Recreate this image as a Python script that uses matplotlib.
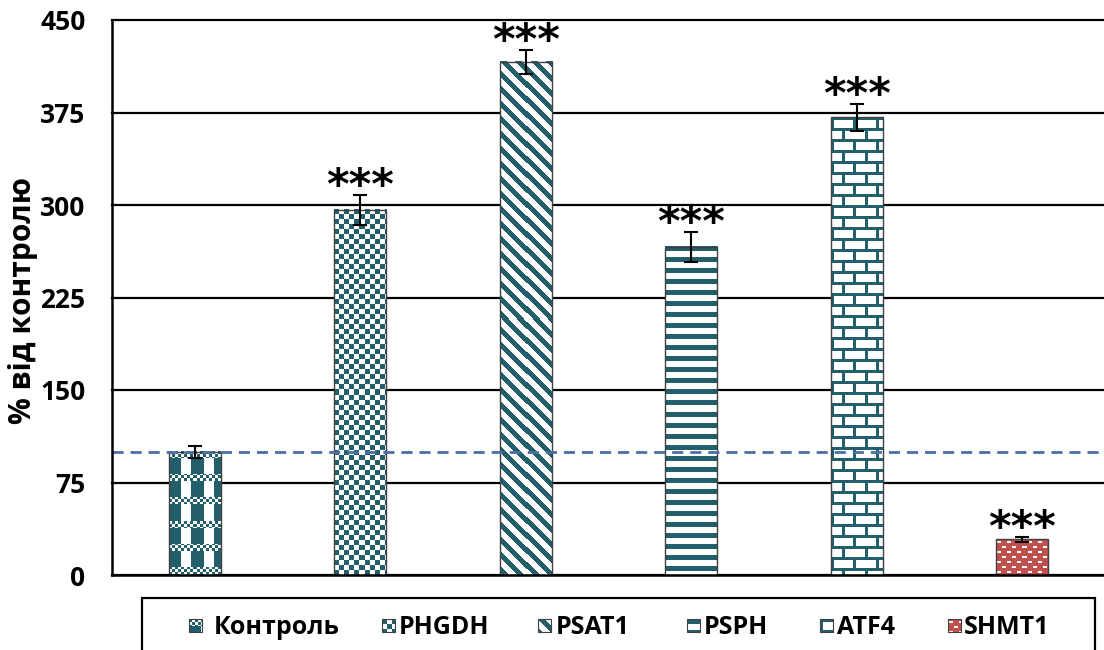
import numpy as np
import matplotlib
matplotlib.use('Agg')
import matplotlib.pyplot as plt
from matplotlib.patches import Rectangle

plt.rcParams['font.family'] = ['Open Sans', 'DejaVu Sans']
plt.rcParams['font.weight'] = 'bold'

# Expression data, % of control
genes = ['Контроль', 'PHGDH', 'PSAT1', 'PSPH', 'ATF4', 'SHMT1']
values = [100, 296, 416, 266, 371, 29]
errors = [5, 12, 10, 12, 11, 2]
signif = ['', '***', '***', '***', '***', '***']
fills = ['plaid', 'checker', 'diag', 'hstripe', 'brick', 'dots']

TEAL = np.array([0x23, 0x5e, 0x6b]) / 255
RED = np.array([0xc0, 0x50, 0x4d]) / 255
WHITE = np.array([1.0, 1.0, 1.0])


def pattern(kind, h, w):
    r, c = np.mgrid[0:h, 0:w]
    fg, bg = TEAL, WHITE
    if kind == 'plaid':
        band = (r % 23) < 7
        small = ((r // 3 + c // 3) % 2) == 0
        mask = np.where(band, small, (c % 22) < 12)
    elif kind == 'checker':
        mask = ((r // 5 + c // 5) % 2) == 0
    elif kind == 'diag':
        mask = ((c - r) % 15) < 7
    elif kind == 'hstripe':
        mask = (r % 11) < 5
    elif kind == 'brick':
        row = r // 11
        mask = ((r % 11) < 3) | (((c + (row % 2) * 11) % 22) < 3)
    else:
        row = r // 5
        cc = (c + (row % 2) * 5) % 10
        mask = ~(((r % 5) >= 2) & ((r % 5) < 4) & (cc >= 1) & (cc < 5))
        fg, bg = RED, WHITE
    img = np.where(mask[..., None], fg, bg)
    return img


fig = plt.figure(figsize=(11.04, 6.5), dpi=100)
ax = fig.add_axes([112 / 1104, 75 / 650, 993 / 1104, 555 / 650])

x = np.arange(len(genes))
bars = ax.bar(x, values, width=0.315, facecolor='none', edgecolor='#404040',
              linewidth=1.0, zorder=3)
ax.set_xlim(-0.5, 5.5)
ax.set_ylim(0, 450)

# fill each bar with its pixel pattern
for b, kind in zip(bars, fills):
    x0, y0 = b.get_x(), b.get_y()
    x1, y1 = x0 + b.get_width(), y0 + b.get_height()
    (px0, py0), (px1, py1) = ax.transData.transform([(x0, y0), (x1, y1)])
    w_px = max(int(round(px1 - px0)), 1)
    h_px = max(int(round(py1 - py0)), 1)
    ax.imshow(pattern(kind, h_px, w_px), extent=(x0, x1, y0, y1), origin='upper',
              aspect='auto', interpolation='nearest', zorder=2.5)
ax.set_xlim(-0.5, 5.5)
ax.set_ylim(0, 450)

ax.errorbar(x, values, yerr=errors, fmt='none', ecolor='black', elinewidth=1.5,
            capsize=5, capthick=1.5, zorder=5)

# control level
ax.axhline(100, color='#4a6fa5', linestyle=(0, (4, 2.5)), linewidth=2.0, zorder=4)

for xi, v, e, s in zip(x, values, errors, signif):
    if s:
        ax.annotate(s, (xi, v + e), xytext=(0, -3), textcoords='offset points',
                    ha='center', va='baseline', fontsize=31,
                    family='DejaVu Sans', fontweight='bold')

ax.set_yticks(np.arange(0, 451, 75))
ax.yaxis.grid(True, color='black', linewidth=1.6)
for gl in ax.get_ygridlines():
    gl.set_clip_on(False)
ax.set_axisbelow(True)
ax.set_xticks([])
ax.tick_params(axis='y', length=0, pad=19, labelsize=19)
for lab in ax.get_yticklabels():
    lab.set_fontweight('bold')
for side in ['top', 'right']:
    ax.spines[side].set_visible(False)
for side in ['left', 'bottom']:
    ax.spines[side].set_linewidth(1.8)
    ax.spines[side].set_color('black')
    ax.spines[side].set_zorder(6)

fig.text(23 / 1104, 0.5 + (650 / 2 - 301) / 650, '% від контролю', rotation=90,
         ha='center', va='center', fontsize=21.5, fontweight='bold')

# legend drawn in pixel space below the plot
lax = fig.add_axes([0, 0, 1, 1], zorder=-1)
lax.set_xlim(0, 1104)
lax.set_ylim(650, 0)
lax.axis('off')
lax.add_patch(Rectangle((142, 598), 953, 80, facecolor='white', edgecolor='black',
                        linewidth=1.6, clip_on=False))
marker_x = [189, 382, 538, 687, 820, 948]
text_x = [214, 399, 556, 704, 837, 964]
for mx, tx, kind, name in zip(marker_x, text_x, fills, genes):
    lax.imshow(pattern(kind, 13, 13), extent=(mx, mx + 13, 632, 619), origin='upper',
               aspect='auto', interpolation='nearest', zorder=2)
    lax.add_patch(Rectangle((mx, 619), 13, 13, facecolor='none', edgecolor='#404040',
                            linewidth=0.8, zorder=3))
    lax.text(tx, 627, name, ha='left', va='center', fontsize=18,
             fontweight='bold')
lax.set_xlim(0, 1104)
lax.set_ylim(650, 0)

fig.savefig('out.png', dpi=100)
